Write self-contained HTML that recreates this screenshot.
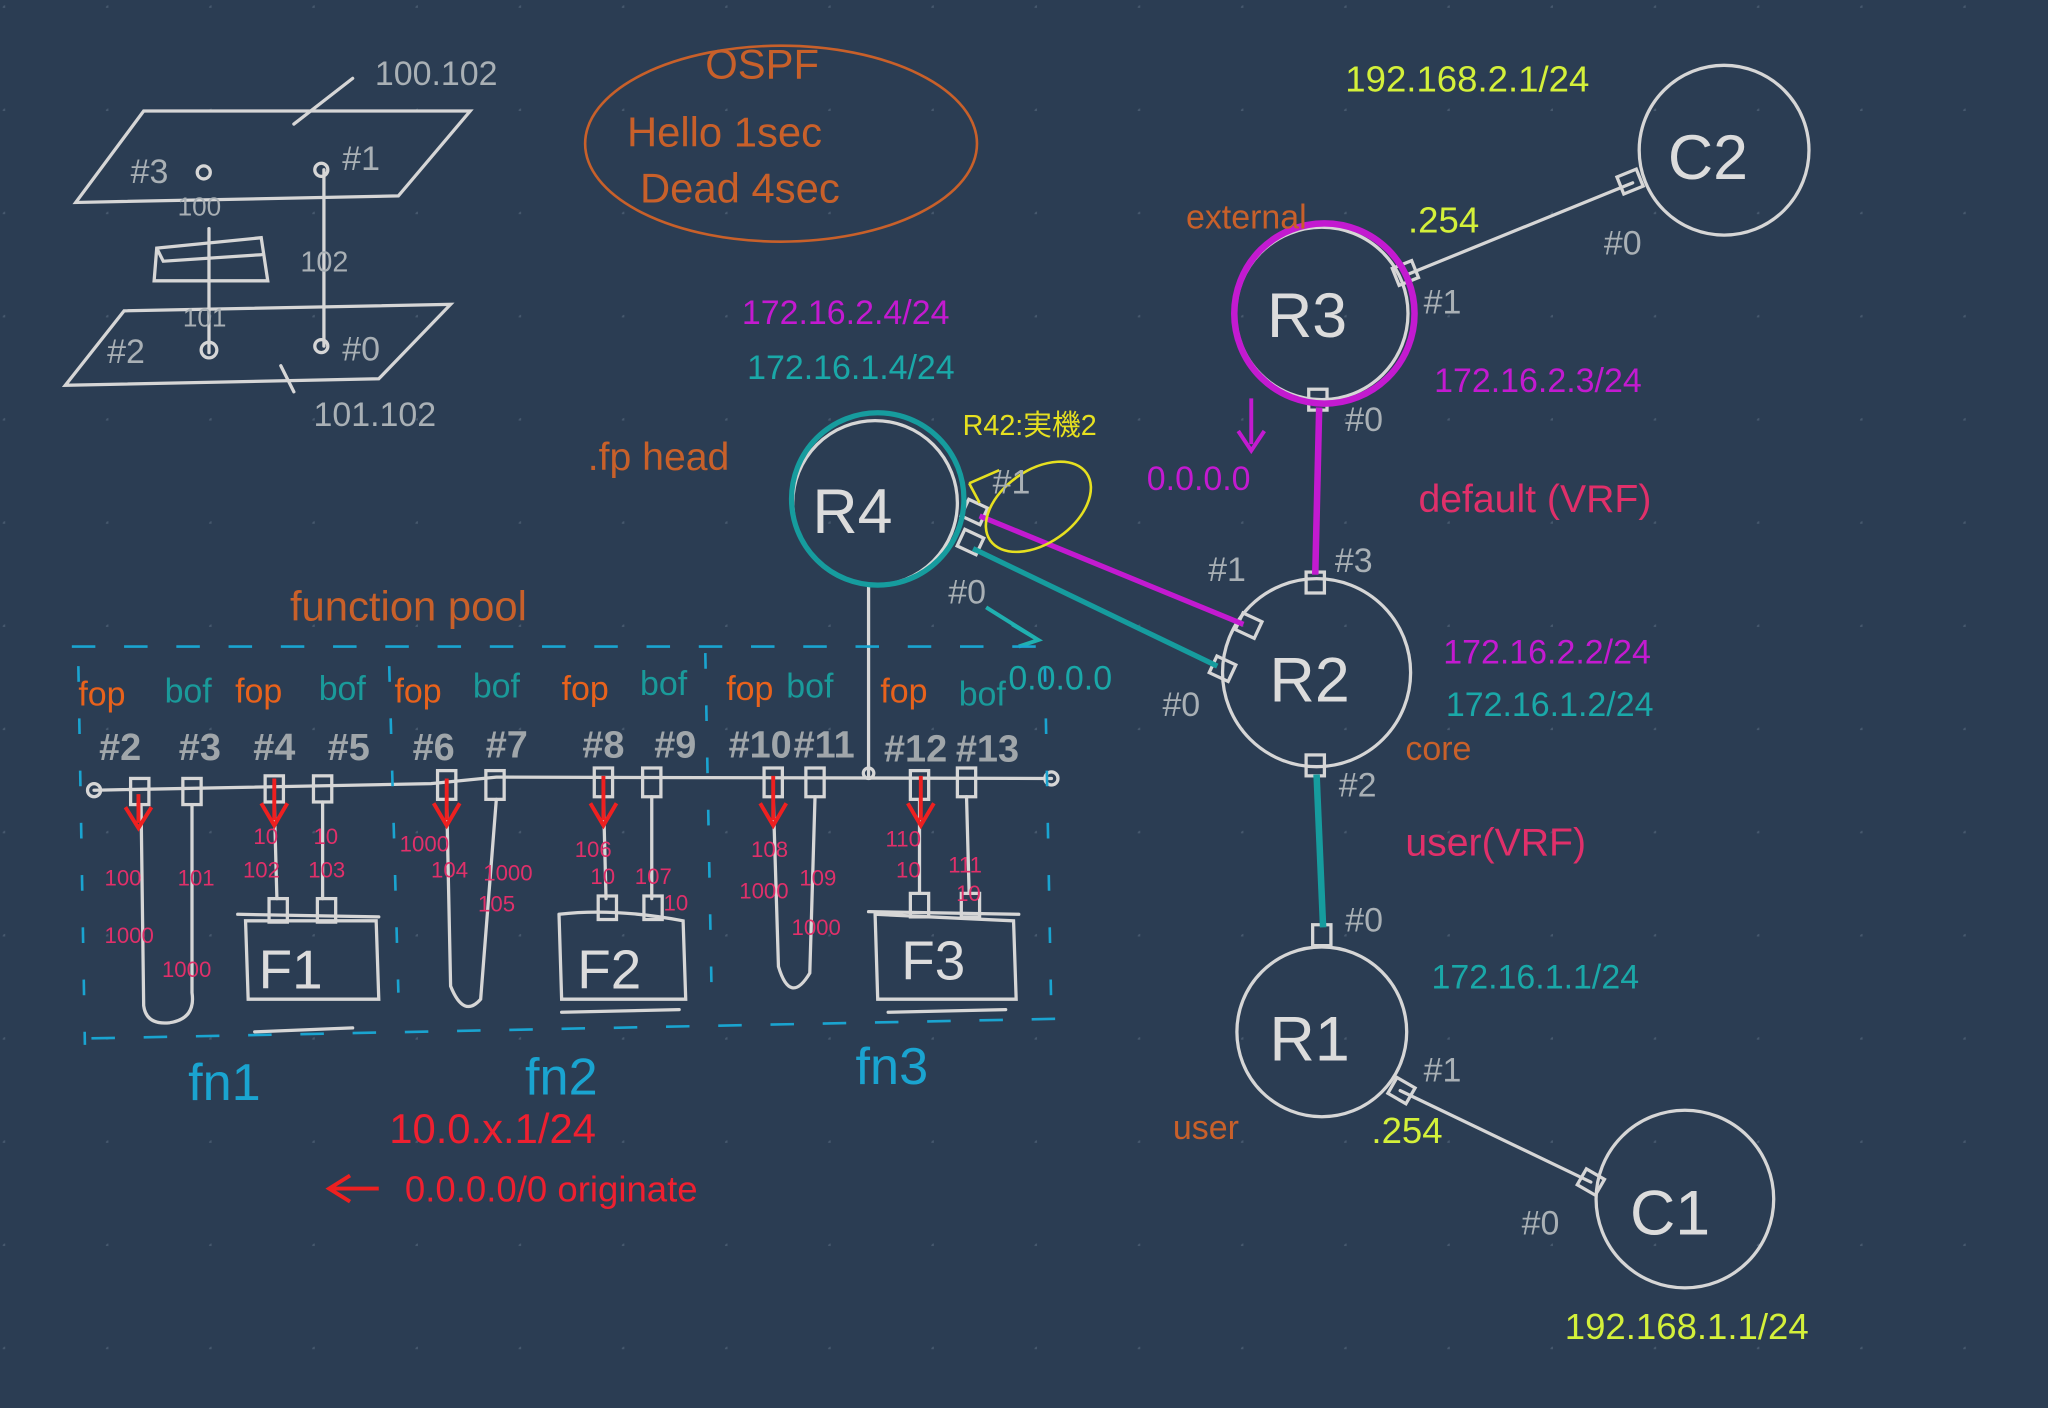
<!DOCTYPE html>
<html><head><meta charset="utf-8"><style>
html,body{margin:0;padding:0;background:#2b3d53;}
svg{display:block}
text{font-family:"Liberation Sans","Noto Sans CJK JP",sans-serif;}
</style></head><body>
<svg width="2048" height="1408" viewBox="0 0 1568 1078" preserveAspectRatio="none" xmlns="http://www.w3.org/2000/svg">
<defs><pattern id="d" width="79" height="79" patternUnits="userSpaceOnUse" x="4" y="6"><circle cx="79" cy="79" r="2" fill="#46586d"/></pattern></defs>
<rect width="1568" height="1078" fill="#2b3d53"/>
<rect width="1568" height="1078" fill="url(#d)"/>
<g fill="none" stroke="#d6d6d6" stroke-width="2.5" stroke-linecap="round">
<path d="M110 85 L360 85 L305 150 L58 155 Z"/>
<path d="M95 238 L345 233 L290 290 L50 295 Z"/>
<path d="M248 130 L248 265"/><circle cx="246" cy="130" r="5"/><circle cx="246" cy="265" r="5"/>
<circle cx="156" cy="132" r="5"/><path d="M160 175 L160 270"/><circle cx="160" cy="268" r="6"/>
<path d="M120 190 L200 182 L205 215 L118 215 Z M120 190 L125 200 L200 195"/>
<path d="M225 95 L270 60"/><path d="M215 280 L225 300"/>
<circle cx="1320" cy="115" r="65"/>
<circle cx="1012" cy="240" r="66"/>
<circle cx="670" cy="385" r="63"/>
<circle cx="1008" cy="515" r="72"/>
<circle cx="1012" cy="790" r="65"/>
<circle cx="1290" cy="918" r="68"/>
<path d="M1250 140 L1078 210"/><path d="M1072 835 L1218 905"/>
<path d="M665 450 L665 595"/>
<path d="M72 605 L330 600 L380 595 L805 596"/>
<circle cx="72" cy="605" r="5"/><circle cx="805" cy="596" r="5"/><circle cx="665" cy="592" r="4"/>
<rect x="1240" y="132" width="16" height="14" transform="rotate(-22 1248 139)"/>
<rect x="1068" y="202" width="16" height="14" transform="rotate(-22 1076 209)"/>
<rect x="1002" y="298" width="14" height="16"/>
<rect x="1000" y="438" width="14" height="16"/>
<rect x="1000" y="578" width="14" height="16"/>
<rect x="1005" y="708" width="14" height="16"/>
<rect x="948" y="472" width="16" height="14" transform="rotate(25 956 479)"/>
<rect x="928" y="505" width="16" height="14" transform="rotate(25 936 512)"/>
<rect x="738" y="385" width="16" height="14" transform="rotate(25 746 392)"/>
<rect x="735" y="408" width="16" height="14" transform="rotate(25 743 415)"/>
<rect x="1065" y="828" width="16" height="14" transform="rotate(30 1073 835)"/>
<rect x="1210" y="898" width="16" height="14" transform="rotate(30 1218 905)"/>
<rect x="100" y="596" width="14" height="20"/><rect x="140" y="596" width="14" height="20"/>
<path d="M108 616 L110 770 Q112 785 130 783 Q150 780 147 760 L147 616"/>
<rect x="203" y="594" width="14" height="20"/><rect x="240" y="594" width="14" height="20"/>
<path d="M210 614 L212 688 M247 614 L247 688"/><rect x="206" y="688" width="14" height="18"/><rect x="243" y="688" width="14" height="18"/>
<path d="M188 705 L190 765 L290 765 L288 705 Z M182 700 L290 702"/><path d="M195 790 L270 787"/>
<rect x="335" y="590" width="14" height="22"/><rect x="372" y="590" width="14" height="22"/>
<path d="M342 612 L345 755 Q355 780 368 765 L380 612"/>
<rect x="455" y="588" width="14" height="22"/><rect x="492" y="588" width="14" height="22"/>
<path d="M462 610 L464 688 M499 610 L499 688"/><rect x="458" y="686" width="14" height="18"/><rect x="493" y="686" width="14" height="18"/>
<path d="M428 700 L430 765 L525 765 L523 705 Q470 695 428 700"/><path d="M430 775 L520 773"/>
<rect x="585" y="588" width="14" height="22"/><rect x="617" y="588" width="14" height="22"/>
<path d="M592 610 L596 740 Q605 770 620 745 L624 610"/>
<rect x="697" y="590" width="14" height="22"/><rect x="733" y="588" width="14" height="22"/>
<path d="M704 612 L704 684 M740 610 L742 684"/><rect x="697" y="684" width="14" height="18"/><rect x="736" y="684" width="14" height="18"/>
<path d="M670 700 L672 765 L778 765 L776 705 Z M665 698 L780 700"/><path d="M680 775 L770 773"/>
</g>
<circle cx="1014" cy="240" r="69" fill="none" stroke="#c31ad0" stroke-width="5"/>
<path d="M1010 312 L1007 440" stroke="#c31ad0" stroke-width="5" fill="none"/>
<path d="M750 395 L952 478" stroke="#c31ad0" stroke-width="4" fill="none"/>
<circle cx="672" cy="382" r="66" fill="none" stroke="#169c9e" stroke-width="4"/>
<path d="M745 420 L932 510" stroke="#169c9e" stroke-width="4" fill="none"/>
<path d="M1008 593 L1013 710" stroke="#169c9e" stroke-width="5" fill="none"/>
<ellipse cx="795" cy="388" rx="45" ry="28" transform="rotate(-35 795 388)" fill="none" stroke="#e6e020" stroke-width="2"/>
<path d="M742 370 L765 360 M750 385 L742 370" stroke="#e6e020" stroke-width="2" fill="none"/>
<ellipse cx="598" cy="110" rx="150" ry="75" fill="none" stroke="#c8602a" stroke-width="2"/>
<g stroke="#ee2020" stroke-width="3" fill="none">
<path d="M106 608 V630 M96 618 L106 634 L116 618"/><path d="M210 596 V628 M200 615 L210 632 L220 615"/>
<path d="M342 596 V628 M332 615 L342 632 L352 615"/><path d="M462 594 V628 M452 615 L462 632 L472 615"/>
<path d="M592 594 V628 M582 615 L592 632 L602 615"/><path d="M705 594 V628 M695 615 L705 632 L715 615"/>
<path d="M290 910 H255 M268 900 L252 910 L268 920"/>
</g>
<path d="M958 305 V340 M948 330 L958 345 L968 330" stroke="#c31ad0" stroke-width="3" fill="none"/>
<path d="M755 465 L795 490 M775 478 L795 490 L780 495" stroke="#20b0b0" stroke-width="3" fill="none"/>
<g stroke="#1aa4d0" stroke-width="2" stroke-dasharray="18 22" fill="none">
<path d="M55 495 L800 495"/><path d="M70 795 L810 780"/>
<path d="M60 510 L65 800" stroke-dasharray="12 28"/><path d="M800 510 L805 780" stroke-dasharray="12 28"/>
<path d="M298 510 L305 760" stroke-dasharray="12 28"/><path d="M540 500 L545 770" stroke-dasharray="12 28"/>
</g>
<g font-size="26" fill="#a9b0b5">
<text x="287" y="65">100.102</text><text x="100" y="140">#3</text><text x="262" y="130">#1</text>
<text x="230" y="208" font-size="22">102</text><text x="140" y="250" font-size="20">101</text><text x="136" y="165" font-size="20">100</text>
<text x="82" y="278">#2</text><text x="262" y="276">#0</text><text x="240" y="326">101.102</text>
<text x="1228" y="195">#0</text><text x="1090" y="240">#1</text><text x="1030" y="330">#0</text>
<text x="925" y="445">#1</text><text x="1022" y="438">#3</text><text x="890" y="548">#0</text>
<text x="1025" y="610">#2</text><text x="1030" y="713">#0</text><text x="1090" y="828">#1</text><text x="1165" y="945">#0</text>
<text x="760" y="378">#1</text><text x="726" y="462">#0</text>
</g>
<g font-size="29" fill="#a0a6aa" font-weight="bold" text-anchor="middle">
<text x="92" y="582">#2</text><text x="153" y="582">#3</text><text x="210" y="582">#4</text><text x="267" y="582">#5</text>
<text x="332" y="582">#6</text><text x="388" y="580">#7</text><text x="462" y="580">#8</text><text x="517" y="580">#9</text>
<text x="582" y="580">#10</text><text x="631" y="580">#11</text><text x="701" y="583">#12</text><text x="756" y="583">#13</text>
</g>
<g fill="#dcdcdc" font-size="48"><text x="1277" y="137">C2</text><text x="970" y="258">R3</text><text x="622" y="408">R4</text><text x="972" y="537">R2</text><text x="972" y="812">R1</text><text x="1248" y="945">C1</text>
<text x="198" y="757" font-size="42">F1</text><text x="442" y="757" font-size="42">F2</text><text x="690" y="750" font-size="42">F3</text></g>
<g fill="#c8602a" font-size="32"><text x="540" y="60">OSPF</text><text x="480" y="112">Hello 1sec</text><text x="490" y="155">Dead 4sec</text>
<text x="908" y="175" font-size="26">external</text><text x="450" y="360" font-size="30">.fp head</text><text x="222" y="475" font-size="32">function pool</text>
<text x="1076" y="582" font-size="26">core</text><text x="898" y="872" font-size="26">user</text></g>
<g fill="#e8621c" font-size="26"><text x="60" y="540">fop</text><text x="180" y="538">fop</text><text x="302" y="538">fop</text><text x="430" y="536">fop</text><text x="556" y="536">fop</text><text x="674" y="538">fop</text></g>
<g fill="#1a9a9a" font-size="26"><text x="126" y="538">bof</text><text x="244" y="536">bof</text><text x="362" y="534">bof</text><text x="490" y="532">bof</text><text x="602" y="534">bof</text><text x="734" y="540">bof</text></g>
<g fill="#d4f03a" font-size="28"><text x="1030" y="70">192.168.2.1/24</text><text x="1078" y="178">.254</text><text x="1050" y="875">.254</text><text x="1198" y="1025">192.168.1.1/24</text>
<text x="737" y="333" font-size="22" fill="#e6e020">R42:実機2</text></g>
<g fill="#c31ad0" font-size="26"><text x="568" y="248">172.16.2.4/24</text><text x="1098" y="300">172.16.2.3/24</text><text x="878" y="375">0.0.0.0</text><text x="1105" y="508">172.16.2.2/24</text></g>
<g fill="#1aa8a8" font-size="26"><text x="572" y="290">172.16.1.4/24</text><text x="772" y="528">0.0.0.0</text><text x="1107" y="548">172.16.1.2/24</text><text x="1096" y="757">172.16.1.1/24</text></g>
<g fill="#e0306a" font-size="30"><text x="1086" y="392">default (VRF)</text><text x="1076" y="655">user(VRF)</text></g>
<g fill="#e0306a" font-size="17"><text x="80" y="678">100</text><text x="136" y="678">101</text><text x="194" y="646">10</text><text x="240" y="646">10</text><text x="186" y="672">102</text><text x="236" y="672">103</text>
<text x="80" y="722">1000</text><text x="124" y="748">1000</text><text x="306" y="652">1000</text><text x="330" y="672">104</text><text x="370" y="674">1000</text><text x="366" y="698">105</text>
<text x="440" y="656">106</text><text x="452" y="677">10</text><text x="486" y="677">107</text><text x="508" y="697">10</text>
<text x="575" y="656">108</text><text x="566" y="688">1000</text><text x="612" y="678">109</text><text x="606" y="716">1000</text>
<text x="678" y="648">110</text><text x="686" y="672">10</text><text x="726" y="668">111</text><text x="732" y="690">10</text></g>
<g fill="#1aa4d0" font-size="40"><text x="144" y="842">fn1</text><text x="402" y="838">fn2</text><text x="655" y="830">fn3</text></g>
<g fill="#ee2030" font-size="32"><text x="298" y="875">10.0.x.1/24</text><text x="310" y="920" font-size="28">0.0.0.0/0 originate</text></g>
</svg>
</body></html>
